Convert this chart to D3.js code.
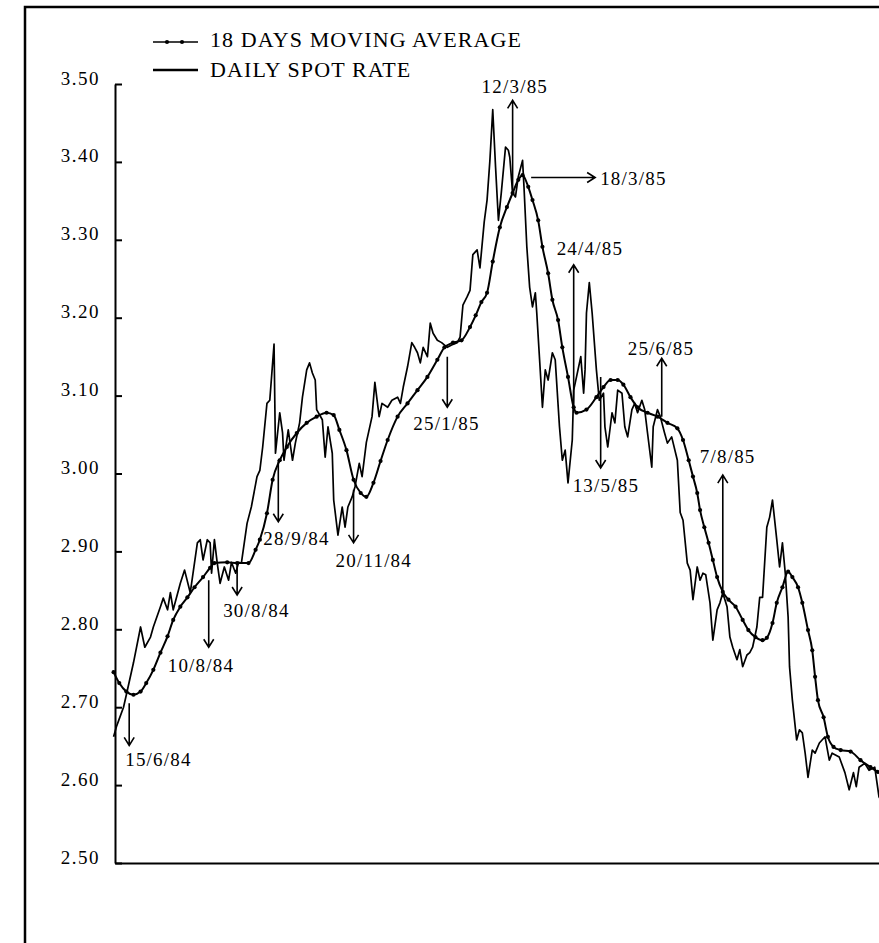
<!DOCTYPE html>
<meta charset="utf-8">
<style>
body { margin: 0; background: #fff; }
svg text { font-family: "Liberation Serif", "Times New Roman", serif; fill: #000; }
.tick text { font-size: 19px; letter-spacing: 1.5px; }
.legend text { font-size: 22px; letter-spacing: 1.1px; }
.anno text { font-size: 19px; letter-spacing: 1.2px; }
.spot { fill: none; stroke: #000; stroke-width: 1.7px; stroke-linejoin: round; }
.ma { fill: none; stroke: #000; stroke-width: 2px; stroke-linejoin: round; }
.arrow { fill: none; stroke: #000; stroke-width: 1.6px; }
</style>
<body>
<div id="chart"></div>
<script src="https://d3js.org/d3.v7.min.js"></script>
<script>

// daily spot rate
var spotRate = [
  ["4/6/84",2.662],["6/6/84",2.675],["8/6/84",2.685],["11/6/84",2.700],["13/6/84",2.716],["18/6/84",2.757],
  ["23/6/84",2.803],["26/6/84",2.777],["30/6/84",2.790],["2/7/84",2.803],["7/7/84",2.829],["9/7/84",2.840],
  ["12/7/84",2.825],["14/7/84",2.847],["16/7/84",2.825],["21/7/84",2.859],["24/7/84",2.876],["28/7/84",2.847],
  ["2/8/84",2.911],["4/8/84",2.915],["6/8/84",2.889],["9/8/84",2.915],["11/8/84",2.911],["12/8/84",2.872],
  ["14/8/84",2.915],["16/8/84",2.885],["18/8/84",2.859],["21/8/84",2.880],["24/8/84",2.863],["26/8/84",2.886],
  ["29/8/84",2.872],["31/8/84",2.886],["2/9/84",2.885],["6/9/84",2.936],["9/9/84",2.957],["13/9/84",2.996],
  ["15/9/84",3.004],["17/9/84",3.034],["20/9/84",3.090],["22/9/84",3.094],["25/9/84",3.166],["26/9/84",3.026],
  ["29/9/84",3.078],["1/10/84",3.052],["2/10/84",3.017],["5/10/84",3.056],["8/10/84",3.017],["10/10/84",3.039],
  ["13/10/84",3.065],["15/10/84",3.098],["18/10/84",3.133],["20/10/84",3.142],["22/10/84",3.129],["24/10/84",3.120],
  ["25/10/84",3.082],["29/10/84",3.069],["31/10/84",3.021],["2/11/84",3.060],["5/11/84",3.026],["6/11/84",2.966],
  ["9/11/84",2.921],["12/11/84",2.957],["14/11/84",2.931],["16/11/84",2.957],["19/11/84",2.970],["21/11/84",2.983],
  ["24/11/84",3.013],["26/11/84",2.996],["29/11/84",3.040],["3/12/84",3.073],["5/12/84",3.117],["8/12/84",3.073],
  ["10/12/84",3.090],["14/12/84",3.085],["17/12/84",3.094],["21/12/84",3.098],["23/12/84",3.090],["25/12/84",3.111],
  ["28/12/84",3.137],["31/12/84",3.168],["2/1/85",3.162],["4/1/85",3.155],["6/1/85",3.142],["8/1/85",3.162],
  ["11/1/85",3.150],["13/1/85",3.193],["15/1/85",3.180],["18/1/85",3.171],["21/1/85",3.168],["25/1/85",3.162],
  ["28/1/85",3.165],["1/2/85",3.168],["3/2/85",3.175],["5/2/85",3.216],["8/2/85",3.227],["10/2/85",3.235],
  ["12/2/85",3.281],["15/2/85",3.287],["17/2/85",3.264],["20/2/85",3.323],["22/2/85",3.351],["24/2/85",3.402],
  ["26/2/85",3.467],["28/2/85",3.393],["2/3/85",3.325],["4/3/85",3.360],["7/3/85",3.419],["9/3/85",3.415],
  ["10/3/85",3.406],["12/3/85",3.360],["14/3/85",3.355],["16/3/85",3.381],["19/3/85",3.402],["20/3/85",3.368],
  ["22/3/85",3.291],["24/3/85",3.239],["26/3/85",3.214],["28/3/85",3.232],["29/3/85",3.206],["31/3/85",3.146],
  ["2/4/85",3.085],["4/4/85",3.133],["6/4/85",3.120],["9/4/85",3.155],["11/4/85",3.146],["14/4/85",3.060],
  ["16/4/85",3.017],["18/4/85",3.030],["20/4/85",2.988],["23/4/85",3.043],["24/4/85",3.107],["26/4/85",3.124],
  ["29/4/85",3.150],["1/5/85",3.103],["2/5/85",3.133],["3/5/85",3.206],["5/5/85",3.245],["7/5/85",3.206],
  ["10/5/85",3.133],["12/5/85",3.094],["15/5/85",3.103],["16/5/85",3.060],["18/5/85",3.034],["21/5/85",3.078],
  ["23/5/85",3.065],["25/5/85",3.107],["28/5/85",3.103],["30/5/85",3.060],["1/6/85",3.047],["4/6/85",3.082],
  ["6/6/85",3.090],["8/6/85",3.078],["11/6/85",3.094],["13/6/85",3.082],["15/6/85",3.052],["18/6/85",3.008],
  ["19/6/85",3.060],["22/6/85",3.082],["24/6/85",3.073],["27/6/85",3.052],["29/6/85",3.039],["2/7/85",3.047],
  ["6/7/85",3.017],["8/7/85",2.950],["10/7/85",2.940],["13/7/85",2.885],["15/7/85",2.876],["17/7/85",2.838],
  ["20/7/85",2.880],["22/7/85",2.863],["24/7/85",2.872],["26/7/85",2.870],["29/7/85",2.834],["31/7/85",2.786],
  ["3/8/85",2.825],["5/8/85",2.834],["7/8/85",2.847],["10/8/85",2.829],["12/8/85",2.790],["14/8/85",2.777],
  ["17/8/85",2.761],["19/8/85",2.774],["21/8/85",2.752],["24/8/85",2.767],["26/8/85",2.770],["28/8/85",2.777],
  ["31/8/85",2.803],["2/9/85",2.841],["4/9/85",2.841],["7/9/85",2.931],["9/9/85",2.944],["11/9/85",2.966],
  ["14/9/85",2.915],["16/9/85",2.880],["18/9/85",2.911],["20/9/85",2.872],["22/9/85",2.816],["23/9/85",2.752],
  ["25/9/85",2.709],["28/9/85",2.658],["30/9/85",2.671],["2/10/85",2.667],["4/10/85",2.641],["6/10/85",2.610],
  ["9/10/85",2.645],["11/10/85",2.641],["14/10/85",2.654],["18/10/85",2.662],["21/10/85",2.632],["23/10/85",2.641],
  ["28/10/85",2.636],["1/11/85",2.616],["4/11/85",2.594],["7/11/85",2.616],["9/11/85",2.598],["11/11/85",2.623],
  ["15/11/85",2.628],["18/11/85",2.619],["22/11/85",2.623],["25/11/85",2.585],["28/11/85",2.575]
];

// 18 days moving average
var movingAvg = [
  ["4/6/84",2.745],["8/6/84",2.731],["13/6/84",2.720],["18/6/84",2.716],["23/6/84",2.720],["27/6/84",2.731],
  ["2/7/84",2.748],["7/7/84",2.770],["12/7/84",2.791],["16/7/84",2.812],["21/7/84",2.829],["26/7/84",2.841],
  ["31/7/84",2.854],["6/8/84",2.867],["11/8/84",2.879],["14/8/84",2.885],["23/8/84",2.886],["30/8/84",2.885],
  ["7/9/84",2.885],["12/9/84",2.902],["15/9/84",2.915],["20/9/84",2.949],["24/9/84",2.992],["29/9/84",3.017],
  ["4/10/84",3.034],["11/10/84",3.052],["18/10/84",3.065],["25/10/84",3.073],["1/11/84",3.078],["6/11/84",3.075],
  ["10/11/84",3.056],["15/11/84",3.030],["20/11/84",2.992],["25/11/84",2.975],["29/11/84",2.970],["4/12/84",2.988],
  ["9/12/84",3.016],["14/12/84",3.043],["21/12/84",3.073],["28/12/84",3.090],["4/1/85",3.107],["11/1/85",3.124],
  ["18/1/85",3.146],["23/1/85",3.162],["29/1/85",3.168],["4/2/85",3.171],["10/2/85",3.188],["14/2/85",3.203],
  ["18/2/85",3.220],["22/2/85",3.232],["26/2/85",3.272],["3/3/85",3.316],["8/3/85",3.342],["12/3/85",3.360],
  ["16/3/85",3.377],["19/3/85",3.383],["23/3/85",3.368],["26/3/85",3.351],["30/3/85",3.325],["2/4/85",3.291],
  ["6/4/85",3.257],["9/4/85",3.223],["13/4/85",3.197],["16/4/85",3.162],["20/4/85",3.124],["24/4/85",3.085],
  ["26/4/85",3.078],["3/5/85",3.082],["10/5/85",3.098],["15/5/85",3.111],["20/5/85",3.120],["25/5/85",3.120],
  ["29/5/85",3.114],["3/6/85",3.098],["8/6/85",3.085],["15/6/85",3.078],["22/6/85",3.073],["29/6/85",3.065],
  ["6/7/85",3.058],["10/7/85",3.043],["14/7/85",3.017],["17/7/85",2.996],["20/7/85",2.975],["22/7/85",2.953],
  ["25/7/85",2.931],["28/7/85",2.911],["31/7/85",2.889],["3/8/85",2.867],["7/8/85",2.848],["11/8/85",2.838],
  ["16/8/85",2.829],["21/8/85",2.812],["25/8/85",2.799],["30/8/85",2.790],["4/9/85",2.786],["7/9/85",2.789],
  ["11/9/85",2.808],["14/9/85",2.834],["18/9/85",2.854],["22/9/85",2.874],["25/9/85",2.867],["29/9/85",2.854],
  ["2/10/85",2.834],["6/10/85",2.799],["9/10/85",2.773],["11/10/85",2.739],["13/10/85",2.709],["17/10/85",2.687],
  ["20/10/85",2.662],["24/10/85",2.649],["29/10/85",2.645],["5/11/85",2.643],["12/11/85",2.632],["19/11/85",2.623],
  ["24/11/85",2.617],["28/11/85",2.612]
];

var yTicks = [2.50, 2.60, 2.70, 2.80, 2.90, 3.00, 3.10, 3.20, 3.30, 3.40, 3.50];

var legendLabels = ["18 DAYS MOVING AVERAGE", "DAILY SPOT RATE"];

// dated arrows: label, value at the tail, value at the head
var annoLabels = ["15/6/84","10/8/84","30/8/84","28/9/84","20/11/84","25/1/85","12/3/85","24/4/85","13/5/85","25/6/85","7/8/85"];
var annoFrom   = [2.705, 2.863, 2.885, 3.017, 2.979, 3.150, 3.360, 3.078, 3.124, 3.073, 2.841];
var annoTo     = [2.651, 2.777, 2.844, 2.938, 2.911, 3.085, 3.479, 3.268, 3.007, 3.148, 2.998];

// the one sideways arrow
var peakLabel = "18/3/85";
var peakValue = 3.380;

// where each label sits relative to its arrow head
var labelShift = [[-4,21],[-41,25],[-14,22],[-15,23],[-18,24],[-34,23],[-31,-7],[-17,-10],[-28,24],[-34,-3],[-23,-12]];

var W = 879, H = 943;
var parse = d3.timeParse("%d/%m/%y");

var svg = d3.select("#chart")
  .append("svg")
    .attr("width", W)
    .attr("height", H);

var x = d3.scaleTime()
    .domain([parse("5/6/84"), parse("25/11/85")])
    .range([115, 879]);

var y = d3.scaleLinear()
    .domain([2.5, 3.5])
    .range([863, 84]);

// page frame
svg.append("path")
    .attr("d", "M25," + H + "V7H" + W)
    .attr("fill", "none")
    .attr("stroke", "#000")
    .attr("stroke-width", 2.5);

// axes
var yAxis = svg.append("g")
    .attr("transform", "translate(115,0)")
    .call(d3.axisLeft(y)
      .tickValues(yTicks)
      .tickFormat(d3.format(".2f"))
      .tickSizeInner(-7)
      .tickSizeOuter(0)
      .tickPadding(15));
yAxis.select(".domain").attr("stroke-width", 2);
yAxis.selectAll(".tick line").attr("stroke-width", 2);
yAxis.selectAll(".tick text").attr("dy", 0);

var xAxis = svg.append("g")
    .attr("transform", "translate(0,863)")
    .call(d3.axisBottom(x).tickValues([]).tickSizeOuter(0));
xAxis.select(".domain").attr("stroke-width", 2);

var line = d3.line()
    .x(function(d) { return x(parse(d[0])); })
    .y(function(d) { return y(d[1]); });

svg.append("path")
    .datum(spotRate)
    .attr("class", "spot")
    .attr("d", line);

svg.append("path")
    .datum(movingAvg)
    .attr("class", "ma")
    .attr("d", line.curve(d3.curveMonotoneX));

svg.selectAll("circle.dot")
    .data(movingAvg)
    .enter()
    .append("circle")
      .attr("class", "dot")
      .attr("cx", function(d) { return x(parse(d[0])); })
      .attr("cy", function(d) { return y(d[1]); })
      .attr("r", 2.1)
      .attr("fill", "#000");

// arrows
var anno = svg.append("g").attr("class", "anno");

annoLabels.forEach(function(lab, i) {
  var ax = x(parse(lab)),
      y1 = y(annoFrom[i]),
      y2 = y(annoTo[i]),
      dir = y2 > y1 ? -1 : 1;
  anno.append("path")
      .attr("class", "arrow")
      .attr("d", "M" + ax + "," + y1 + "V" + y2 +
                 "M" + (ax - 5) + "," + (y2 + dir * 8) + "L" + ax + "," + y2 + "L" + (ax + 5) + "," + (y2 + dir * 8));
  anno.append("text")
      .attr("x", ax + labelShift[i][0])
      .attr("y", y2 + labelShift[i][1])
      .text(lab);
});

var px = x(parse(peakLabel)), py = y(peakValue);
anno.append("path")
    .attr("class", "arrow")
    .attr("d", "M" + (px + 10) + "," + py + "H" + (px + 74) +
               "M" + (px + 66) + "," + (py - 5) + "L" + (px + 74) + "," + py + "L" + (px + 66) + "," + (py + 5));
anno.append("text")
    .attr("x", px + 79)
    .attr("y", py + 8)
    .text(peakLabel);

// legend
var legend = svg.append("g").attr("class", "legend");
legend.append("line")
    .attr("x1", 153).attr("x2", 198).attr("y1", 42).attr("y2", 42)
    .attr("stroke", "#000").attr("stroke-width", 1.5);
[167, 182].forEach(function(cx) {
  legend.append("circle").attr("cx", cx).attr("cy", 42).attr("r", 2.1).attr("fill", "#000");
});
legend.append("line")
    .attr("x1", 153).attr("x2", 198).attr("y1", 70).attr("y2", 70)
    .attr("stroke", "#000").attr("stroke-width", 2.5);
legend.selectAll("text")
    .data(legendLabels)
    .enter()
    .append("text")
      .attr("x", 210)
      .attr("y", function(d, i) { return 47 + i * 30; })
      .text(function(d) { return d; });

</script>
</body>
